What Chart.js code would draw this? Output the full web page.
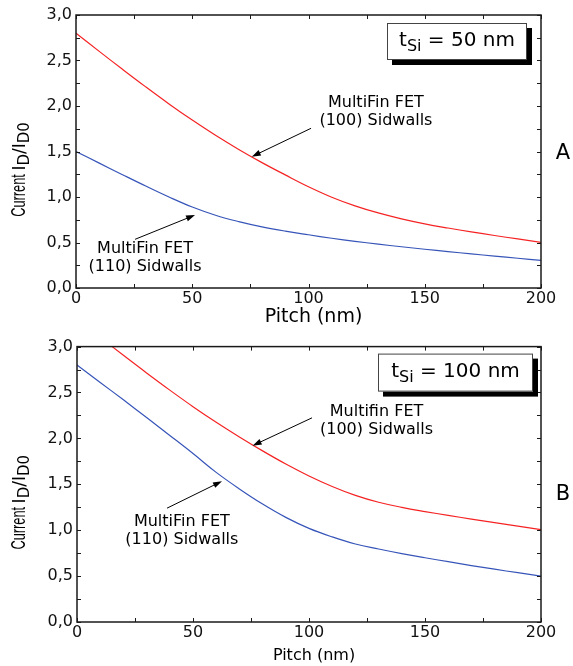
<!DOCTYPE html>
<meta charset="utf-8">
<head>
  <title>MultiFin FET current vs pitch</title>
  <style>
    html, body { margin: 0; padding: 0; background: #fff; }
    canvas { display: block; }
  </style>
</head>
<body>
  <canvas id="chartA" width="573" height="333"></canvas>
  <canvas id="chartB" width="573" height="333"></canvas>

<script src="https://cdn.jsdelivr.net/npm/chart.js@4.4.1/dist/chart.umd.min.js"></script>
<script>
// pitch in nm, shared by every curve
var pitch = [0, 10, 20, 30, 40, 50, 60, 70, 80, 90, 100, 110, 120, 130, 140, 150, 160, 170, 180, 190, 200];

// panel A, tSi = 50 nm
var redA  = [2.80, 2.60, 2.403, 2.21, 2.023, 1.845, 1.678, 1.523, 1.378, 1.243, 1.113, 0.998, 0.903, 0.825, 0.76, 0.705, 0.659, 0.617, 0.577, 0.539, 0.502];
var blueA = [1.50, 1.372, 1.245, 1.12, 1.00, 0.89, 0.80, 0.73, 0.672, 0.625, 0.585, 0.547, 0.513, 0.482, 0.453, 0.426, 0.40, 0.375, 0.351, 0.327, 0.303];

// panel B, tSi = 100 nm (red leaves the frame above 3,0 for small pitch)
var redB  = [null, 3.10, 2.905, 2.713, 2.526, 2.346, 2.176, 2.016, 1.864, 1.721, 1.591, 1.476, 1.379, 1.304, 1.249, 1.203, 1.161, 1.121, 1.082, 1.044, 1.007];
var blueB = [2.80, 2.61, 2.42, 2.227, 2.032, 1.835, 1.63, 1.45, 1.285, 1.14, 1.02, 0.927, 0.85, 0.795, 0.745, 0.70, 0.657, 0.615, 0.575, 0.537, 0.50];

var yTicks = [0, 0.5, 1.0, 1.5, 2.0, 2.5, 3.0];
var xTicks = [0, 50, 100, 150, 200];

var RED = 'rgb(245,35,35)';
var BLUE = 'rgb(55,85,185)';
var FONT = '"DejaVu Sans", Verdana, sans-serif';

function pts(vals) {
  var out = [];
  for (var i = 0; i < pitch.length; i++) {
    if (vals[i] !== null) out.push({ x: pitch[i], y: vals[i] });
  }
  return out;
}

function arrow(ctx, x1, y1, x2, y2) {
  var a = Math.atan2(y2 - y1, x2 - x1);
  ctx.beginPath();
  ctx.moveTo(x1, y1);
  ctx.lineTo(x2 - 6 * Math.cos(a), y2 - 6 * Math.sin(a));
  ctx.stroke();
  ctx.beginPath();
  ctx.moveTo(x2, y2);
  ctx.lineTo(x2 - 9 * Math.cos(a) + 3 * Math.sin(a), y2 - 9 * Math.sin(a) - 3 * Math.cos(a));
  ctx.lineTo(x2 - 9 * Math.cos(a) - 3 * Math.sin(a), y2 - 9 * Math.sin(a) + 3 * Math.cos(a));
  ctx.closePath();
  ctx.fill();
}

// frame, inward ticks, titles, notes
var decor = {
  id: 'decor',
  afterDraw: function(chart) {
    var o = chart.options.plugins.decor;
    var ctx = chart.ctx, a = chart.chartArea;
    var xs = chart.scales.x, ys = chart.scales.y;
    ctx.save();
    ctx.strokeStyle = '#1a1a1a';
    ctx.fillStyle = '#000';
    ctx.lineWidth = 1.5;
    ctx.strokeRect(a.left, a.top, a.right - a.left, a.bottom - a.top);

    ctx.lineWidth = 1;
    ctx.beginPath();
    for (var v = 0; v <= 3.0001; v += 0.25) {
      var py = Math.round(ys.getPixelForValue(v)) + 0.5;
      ctx.moveTo(a.left, py); ctx.lineTo(a.left + 4, py);
      ctx.moveTo(a.right, py); ctx.lineTo(a.right - 4, py);
    }
    for (var p = 0; p <= 200; p += 25) {
      var px = Math.round(xs.getPixelForValue(p)) + 0.5;
      ctx.moveTo(px, a.bottom); ctx.lineTo(px, a.bottom - 4);
      ctx.moveTo(px, a.top); ctx.lineTo(px, a.top + 4);
    }
    ctx.stroke();

    // y title, rotated
    ctx.save();
    ctx.translate(o.yTitleX, (a.top + a.bottom) / 2 + 18);
    ctx.rotate(-Math.PI / 2);
    ctx.textBaseline = 'alphabetic';
    ctx.textAlign = 'left';
    var parts = [
      ['Current ', '20px "Liberation Sans", Arial, sans-serif', 0, 0.64],
      ['I', '17px ' + FONT, 0, 1],
      ['D', '15px ' + FONT, 4, 1],
      ['/I', '17px ' + FONT, 0, 1],
      ['D0', '15px ' + FONT, 4, 1]
    ];
    var w = 0;
    parts.forEach(function(t) { ctx.font = t[1]; w += ctx.measureText(t[0]).width * t[3]; });
    var cx = -w / 2;
    parts.forEach(function(t) {
      ctx.font = t[1];
      ctx.save();
      ctx.translate(cx, t[2]);
      ctx.scale(t[3], 1);
      ctx.fillText(t[0], 0, 0);
      ctx.restore();
      cx += ctx.measureText(t[0]).width * t[3];
    });
    ctx.restore();

    // x title
    ctx.font = o.xTitleFont;
    ctx.textAlign = 'center';
    ctx.textBaseline = 'alphabetic';
    ctx.fillText('Pitch (nm)', (a.left + a.right) / 2 + 5, o.xTitleY);

    // panel letter
    ctx.font = '21px ' + FONT;
    ctx.textBaseline = 'middle';
    ctx.fillText(o.letter, 563, o.letterY);

    // tSi box with shadow
    var bx = a.right - o.box.right - o.box.w, by = a.top + o.box.top;
    ctx.fillStyle = '#000';
    ctx.fillRect(bx + 5, by + 5, o.box.w, o.box.h);
    ctx.fillStyle = '#fff';
    ctx.fillRect(bx, by, o.box.w, o.box.h);
    ctx.strokeStyle = '#444';
    ctx.lineWidth = 1;
    ctx.strokeRect(bx + 0.5, by + 0.5, o.box.w - 1, o.box.h - 1);
    ctx.fillStyle = '#000';
    var seg = [['t', '20px ' + FONT, 0], ['Si', '16px ' + FONT, 5], [' = ' + o.tsi + ' nm', '20px ' + FONT, 0]];
    var tw = 0;
    seg.forEach(function(s) { ctx.font = s[1]; tw += ctx.measureText(s[0]).width; });
    var tx = bx + o.box.w / 2 - tw / 2;
    ctx.textAlign = 'left';
    ctx.textBaseline = 'alphabetic';
    seg.forEach(function(s) {
      ctx.font = s[1];
      ctx.fillText(s[0], tx, by + 23 + s[2]);
      tx += ctx.measureText(s[0]).width;
    });

    // curve labels and arrows
    ctx.font = '16px ' + FONT;
    ctx.textAlign = 'center';
    o.notes.forEach(function(n) {
      var nx = xs.getPixelForValue(n.at[0]), ny = ys.getPixelForValue(n.at[1]);
      ctx.fillText(n.lines[0], nx, ny);
      ctx.fillText(n.lines[1], nx, ny + 18);
      ctx.lineWidth = 1;
      ctx.strokeStyle = '#000';
      arrow(ctx, xs.getPixelForValue(n.from[0]), ys.getPixelForValue(n.from[1]),
                 xs.getPixelForValue(n.to[0]), ys.getPixelForValue(n.to[1]));
    });
    ctx.restore();
  }
};

function makeChart(id, red, blue, pad, yWidth, xHeight, decorOpts) {
  return new Chart(id, {
    type: 'line',
    data: {
      datasets: [
        { data: pts(red), borderColor: RED, borderWidth: 1.2, pointRadius: 0, tension: 0.4, fill: false },
        { data: pts(blue), borderColor: BLUE, borderWidth: 1.2, pointRadius: 0, tension: 0.4, fill: false }
      ]
    },
    options: {
      responsive: false,
      animation: false,
      layout: { padding: pad },
      plugins: { legend: { display: false }, tooltip: { enabled: false }, decor: decorOpts },
      scales: {
        x: {
          type: 'linear', min: 0, max: 200,
          afterBuildTicks: function(s) { s.ticks = xTicks.map(function(v) { return { value: v }; }); },
          grid: { display: false, drawTicks: false },
          border: { display: false },
          ticks: { color: '#111', font: { family: FONT, size: 16 }, padding: 1, maxRotation: 0 },
          afterFit: function(s) { s.height = xHeight; }
        },
        y: {
          min: 0, max: 3,
          afterBuildTicks: function(s) { s.ticks = yTicks.map(function(v) { return { value: v }; }); },
          grid: { display: false, drawTicks: false },
          border: { display: false },
          ticks: {
            color: '#111', font: { family: FONT, size: 16 }, padding: 4,
            callback: function(v) { return v.toFixed(1).replace('.', ','); }
          },
          afterFit: function(s) { s.width = yWidth; }
        }
      }
    },
    plugins: [decor]
  });
}

makeChart('chartA', redA, blueA, { top: 15, right: 32, left: 0, bottom: 0 }, 76, 45, {
  yTitleX: 25, xTitleY: 322, xTitleFont: '19px ' + FONT,
  letter: 'A', letterY: 154, tsi: '50',
  box: { right: 14, top: 8, w: 140, h: 37 },
  notes: [
    { lines: ['MultiFin FET', '(100) Sidwalls'], at: [129, 1.99], from: [101.1, 1.755], to: [75.6, 1.443] },
    { lines: ['MultiFin FET', '(110) Sidwalls'], at: [29.7, 0.385], from: [25.4, 0.535], to: [51.2, 0.802] }
  ]
});

makeChart('chartB', redB, blueB, { top: 10, right: 32, left: 0, bottom: 0 }, 77, 44, {
  yTitleX: 25, xTitleY: 327, xTitleFont: '16px ' + FONT,
  letter: 'B', letterY: 162, tsi: '100',
  box: { right: 8, top: 7, w: 155, h: 38 },
  notes: [
    { lines: ['Multifin FET', '(100) Sidwalls'], at: [129.1, 2.249], from: [101.3, 2.224], to: [75.7, 1.921] },
    { lines: ['MultiFin FET', '(110) Sidwalls'], at: [45.2, 1.044], from: [38.8, 1.24], to: [62.5, 1.534] }
  ]
});
</script>
</body>
</html>
